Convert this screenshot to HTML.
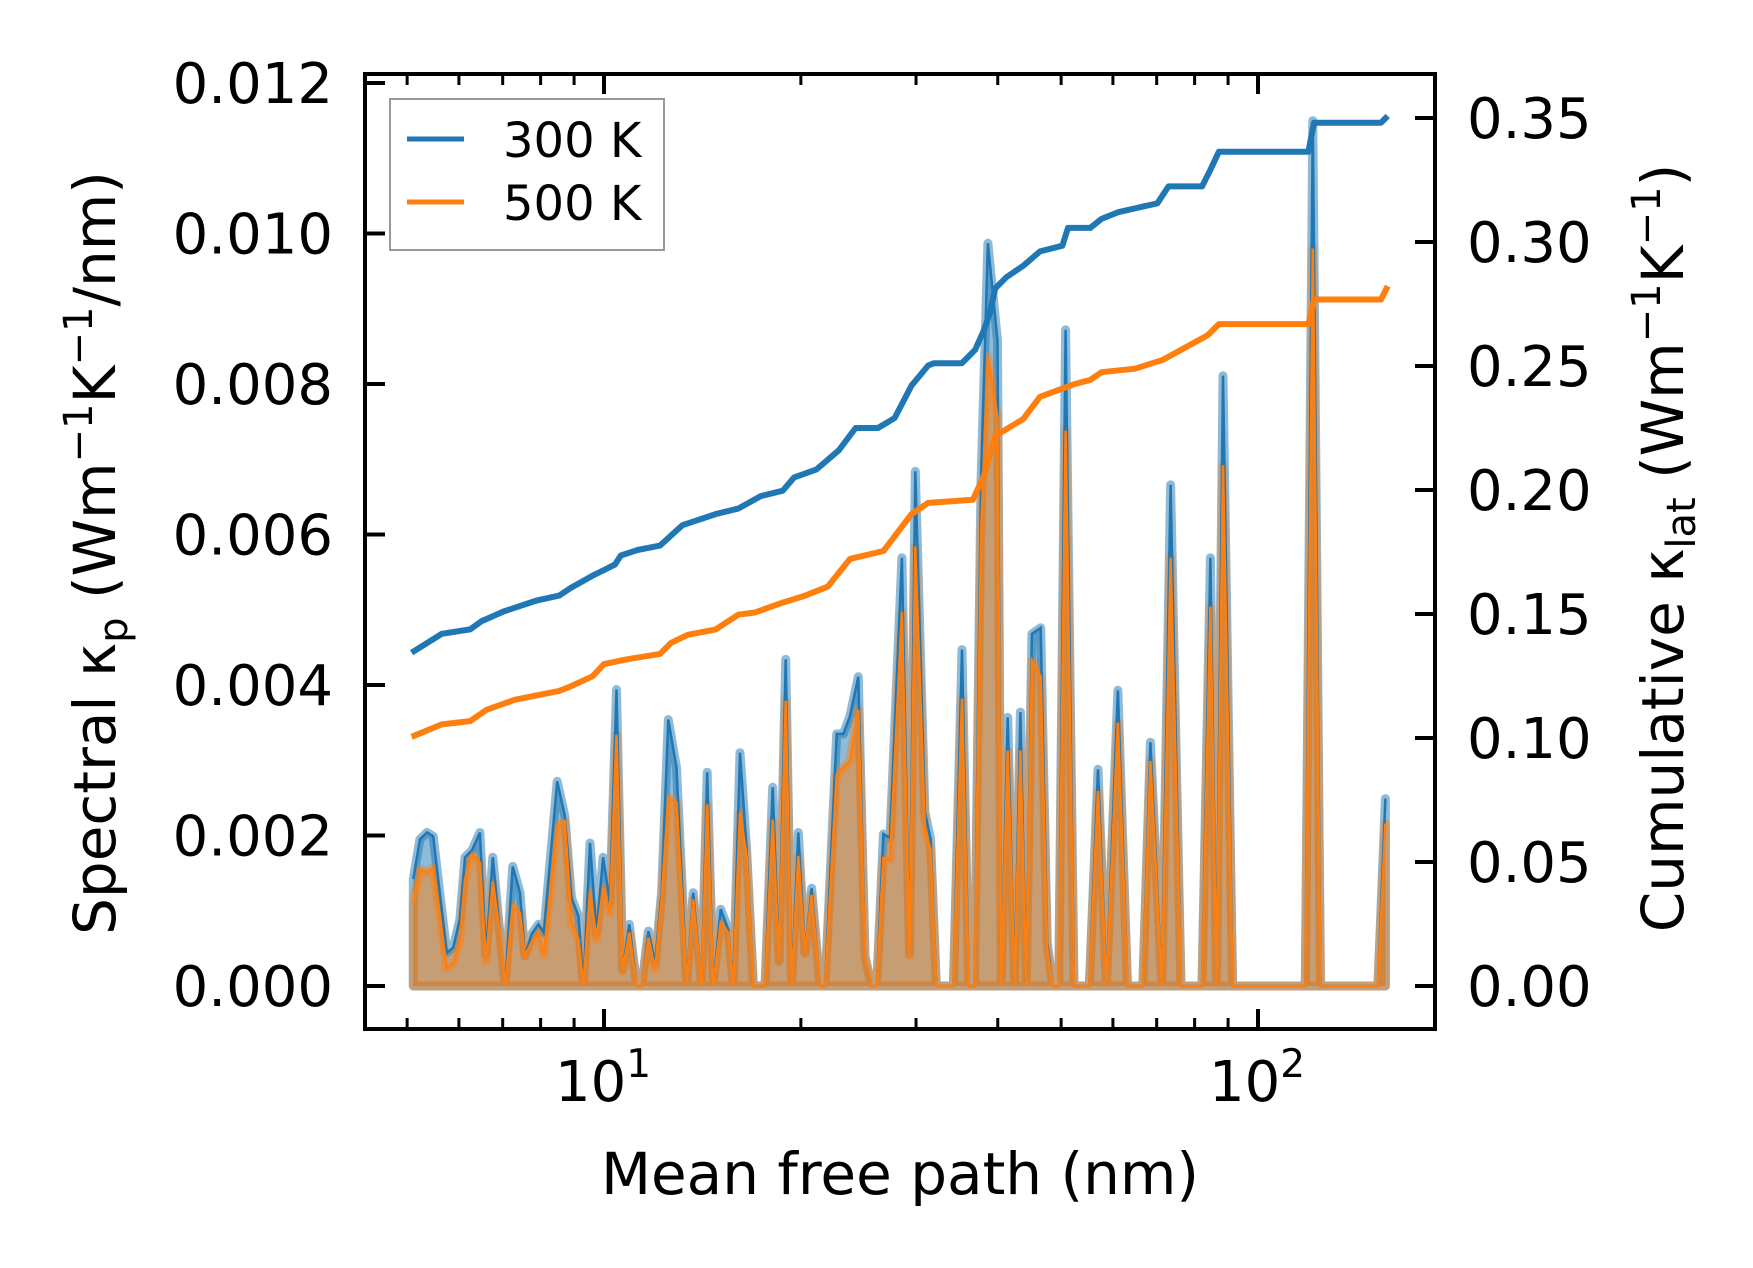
<!DOCTYPE html>
<html><head><meta charset="utf-8">
<style>
html,body{margin:0;padding:0;background:#fff;}
svg{display:block;font-family:"DejaVu Sans","Liberation Sans",sans-serif;}
</style></head>
<body>
<svg id="chart" width="1753" height="1268" viewBox="0 0 1753 1268" xmlns="http://www.w3.org/2000/svg">
<rect width="1753" height="1268" fill="#fff"/>
<g id="plot"></g>
<g id="axes"></g>
<g>
  <rect x="390" y="99" width="274" height="151" fill="#fff" fill-opacity="0.8" stroke="#999" stroke-width="2"/>
  <line x1="407" y1="139" x2="464" y2="139" stroke="#1f77b4" stroke-width="5"/>
  <text x="503" y="157" font-size="48">300 K</text>
  <line x1="407" y1="202" x2="464" y2="202" stroke="#ff7f0e" stroke-width="5"/>
  <text x="503" y="220" font-size="48">500 K</text>
</g>
<text x="900" y="1194" font-size="58" text-anchor="middle">Mean free path (nm)</text>
<text transform="translate(115,553) rotate(-90)" font-size="58" text-anchor="middle">Spectral κ<tspan font-size="40" dy="12">p</tspan><tspan dy="-12"> (Wm</tspan><tspan font-size="40" dy="-23">−1</tspan><tspan dy="23">K</tspan><tspan font-size="40" dy="-23">−1</tspan><tspan dy="23">/nm)</tspan></text>
<text transform="translate(1683,548) rotate(-90)" font-size="58" text-anchor="middle">Cumulative κ<tspan font-size="40" dy="12">lat</tspan><tspan dy="-12"> (Wm</tspan><tspan font-size="40" dy="-23">−1</tspan><tspan dy="23">K</tspan><tspan font-size="40" dy="-23">−1</tspan><tspan dy="23">)</tspan></text>
</svg>
<script>
// Spectral data (MFP in nm, spectral kappa in 1e-3 W/m/K/nm)
const specX = [5.11,5.23,5.36,5.48,5.75,5.88,6.02,6.13,6.28,6.46,6.60,6.76,6.93,7.06,7.25,7.44,7.57,7.75,7.94,8.09,8.48,8.71,8.92,9.14,9.30,9.52,9.74,9.97,10.21,10.45,10.68,10.93,11.22,11.42,11.69,11.97,12.25,12.54,12.91,13.38,13.69,14.10,14.38,14.69,15.08,15.49,15.76,16.14,16.52,16.92,17.63,18.11,18.52,18.96,19.36,19.82,20.29,20.77,21.39,21.77,22.69,23.23,23.78,24.48,25.07,25.66,26.12,26.74,27.37,28.54,29.32,29.92,30.95,31.58,32.22,34.22,35.27,36.13,36.86,37.71,38.64,39.96,40.50,41.43,42.45,43.32,44.21,45.11,46.53,47.61,48.58,49.57,50.79,52.32,55.21,56.93,58.65,61.07,63.16,66.65,68.47,71.28,73.52,76.25,82.10,84.57,86.41,88.42,91.45,118.1,121.3,124.6,152.5,156.6];
const spec300 = [1.42,1.95,2.04,1.99,0.44,0.51,0.89,1.71,1.80,2.04,0.42,1.71,0.71,0,1.59,1.24,0.40,0.69,0.82,0.71,2.72,2.26,1.17,0.93,0,1.90,0.71,1.71,1.11,3.94,0.22,0.82,0,0,0.73,0.31,1.24,3.54,2.90,0.04,1.24,0,2.84,0,1.02,0.75,0,3.10,1.82,0,0,2.64,0.33,4.34,0,2.04,0.44,1.30,0,0,3.35,3.35,3.59,4.11,0.39,0,0,2.02,1.97,5.69,0.43,6.84,2.31,1.95,0,0,4.47,0,0,6.70,9.87,8.57,0,3.57,0,3.64,0,4.68,4.76,0.58,0,0,8.72,0,0,2.88,0,3.93,0,0,3.24,0,6.66,0,0,5.69,0,8.11,0,0,11.5,0,0,2.49];
const spec500 = [1.11,1.55,1.51,1.57,0.24,0.31,0.62,1.42,1.75,1.64,0.33,1.39,0.71,0,1.06,0.97,0.40,0.58,0.71,0.42,2.13,2.19,0.84,0.62,0,1.26,0.62,1.31,0.97,3.34,0.20,0.71,0,0,0.64,0.22,1.15,2.50,2.44,0.04,1.15,0,2.41,0,0.84,0.71,0,2.30,1.73,0,0,2.21,0.33,3.79,0,1.73,0.44,1.21,0,0,2.81,2.90,2.99,3.67,0.39,0,0,1.70,1.67,4.97,0.40,5.84,2.09,1.80,0,0,3.82,0,0,6.00,8.36,7.56,0,3.13,0,3.13,0,4.32,4.11,0.50,0,0,7.38,0,0,2.59,0,3.50,0,0,2.99,0,5.69,0,0,5.04,0,6.92,0,0,9.80,0,0,2.16];
// Cumulative data (MFP in nm, W/m/K)
const cum300X = [5.08,5.65,6.24,6.49,7.02,7.90,8.54,8.89,9.61,10,10.40,10.61,11.25,12.18,13.18,14.82,16.04,17.35,18.77,19.53,21.13,22.86,24.25,26.23,27.82,29.52,31.31,31.93,35.24,36.94,38.13,38.89,39.66,41.24,43.75,46.42,50.22,51.22,55.41,57.64,61.14,70.18,72.98,82.13,84.42,87.13,119.4,121.8,154.2,157.9];
const cum300 = [0.1344,0.1420,0.1438,0.1470,0.1510,0.1555,0.1574,0.1605,0.1655,0.1677,0.1700,0.1736,0.1758,0.1776,0.1858,0.1903,0.1925,0.1975,0.1997,0.2051,0.2083,0.2160,0.2250,0.2250,0.2290,0.2421,0.2502,0.2511,0.2511,0.2565,0.2646,0.2714,0.2813,0.2858,0.2904,0.2962,0.2985,0.3057,0.3057,0.3093,0.3120,0.3156,0.3224,0.3224,0.3287,0.3364,0.3364,0.3481,0.3481,0.3508];
const cum500X = [5.08,5.65,6.24,6.62,7.30,7.90,8.54,8.89,9.61,10,10.82,12.18,12.67,13.43,14.82,16.04,17.01,18.77,20.31,21.98,23.78,26.75,29.52,31.31,36.65,38.13,39.66,42.06,43.75,46.42,52.24,55.41,57.64,64.86,71.56,83.76,87.13,119.4,121.8,154.2,157.9];
const cum500 = [0.1005,0.1055,0.1068,0.1114,0.1154,0.1172,0.1190,0.1208,0.1249,0.1298,0.1317,0.1339,0.1384,0.1416,0.1438,0.1497,0.1506,0.1546,0.1574,0.1610,0.1722,0.1754,0.1903,0.1948,0.1961,0.2060,0.2218,0.2259,0.2286,0.2376,0.2426,0.2444,0.2475,0.2489,0.2525,0.2624,0.2669,0.2669,0.2768,0.2768,0.2822];
const leftTicks = [0,0.002,0.004,0.006,0.008,0.010,0.012];
const leftTickLabels = ["0.000","0.002","0.004","0.006","0.008","0.010","0.012"];
const rightTicks = [0,0.05,0.10,0.15,0.20,0.25,0.30,0.35];
const rightTickLabels = ["0.00","0.05","0.10","0.15","0.20","0.25","0.30","0.35"];
const xMajor = [10,100];
const xMinor = [5,6,7,8,9,20,30,40,50,60,70,80,90];

const NS = "http://www.w3.org/2000/svg";
const L = 365, R = 1435, T = 74, B = 1029;
function xs(v){ return 604 + (Math.log10(v) - 1) * 654; }
function yl(v){ return 986 - v * 1000 * 75.25; }
function ys(v){ return 986 - v * 75.25; }
function yr(v){ return 986 - v / 0.05 * 124; }
function mk(tag, attrs, parent){
  const e = document.createElementNS(NS, tag);
  for (const k in attrs) e.setAttribute(k, attrs[k]);
  parent.appendChild(e); return e;
}
const plot = document.getElementById('plot');
const axes = document.getElementById('axes');

function areaPath(xsArr, vals){
  let d = "M" + xs(xsArr[0]).toFixed(1) + "," + ys(0);
  for (let i = 0; i < xsArr.length; i++) d += " L" + xs(xsArr[i]).toFixed(1) + "," + ys(vals[i]).toFixed(1);
  d += " L" + xs(xsArr[xsArr.length-1]).toFixed(1) + "," + ys(0) + " Z";
  return d;
}
function linePath(xsArr, vals, yf){
  let d = "";
  for (let i = 0; i < xsArr.length; i++) d += (i ? " L" : "M") + xs(xsArr[i]).toFixed(1) + "," + yf(vals[i]).toFixed(1);
  return d;
}
let e;
e = mk('path', {d: areaPath(specX, spec300), fill: 'rgba(31,119,180,0.5)', stroke: 'rgba(31,119,180,0.5)', 'stroke-width': 9, 'stroke-linejoin': 'round'}, plot);


e = mk('path', {d: areaPath(specX, spec500), fill: 'rgba(255,127,14,0.5)', stroke: 'rgba(255,127,14,0.45)', 'stroke-width': 9, 'stroke-linejoin': 'round'}, plot);


e = mk('path', {d: linePath(specX, spec300, ys), fill: 'none', stroke: '#1f77b4', 'stroke-width': 2.5}, plot);


e = mk('path', {d: linePath(specX, spec500, ys), fill: 'none', stroke: '#ff7f0e', 'stroke-width': 2.5}, plot);


e = mk('path', {d: linePath(cum300X, cum300, yr), fill: 'none', stroke: '#1f77b4', 'stroke-width': 6, 'stroke-linejoin': 'round'}, plot);


e = mk('path', {d: linePath(cum500X, cum500, yr), fill: 'none', stroke: '#ff7f0e', 'stroke-width': 6, 'stroke-linejoin': 'round'}, plot);



e = mk('rect', {x: L, y: T, width: R-L, height: B-T, fill: 'none', stroke: '#000', 'stroke-width': 4}, axes);


leftTicks.forEach((v, i) => {
  const y = yl(v);
  const t = mk('line', {x1: L, x2: L+20, y1: y, y2: y, stroke: '#000', 'stroke-width': 4}, axes);
  
  
  const lb = mk('text', {x: 333, y: y + 20, 'font-size': 56, 'text-anchor': 'end'}, axes);
  lb.textContent = leftTickLabels[i];
  
  
});
rightTicks.forEach((v, i) => {
  const y = yr(v);
  const t = mk('line', {x1: R-20, x2: R, y1: y, y2: y, stroke: '#000', 'stroke-width': 4}, axes);
  
  
  const lb = mk('text', {x: 1467, y: y + 20, 'font-size': 56}, axes);
  lb.textContent = rightTickLabels[i];
  
  
});
xMajor.forEach(v => {
  const x = xs(v);
  [[B, B-20], [T, T+20]].forEach(p => {
    const t = mk('line', {x1: x, x2: x, y1: p[0], y2: p[1], stroke: '#000', 'stroke-width': 4}, axes);
    
    
  });
  const lb = mk('text', {x: x - 1, y: 1101, 'font-size': 56, 'text-anchor': 'middle'}, axes);
  
  
  lb.textContent = "10";
  const sup = mk('tspan', {'font-size': 39, dy: -24}, lb);
  sup.textContent = String(Math.round(Math.log10(v)));
});
xMinor.forEach(v => {
  const x = xs(v);
  [[B, B-11], [T, T+11]].forEach(p => {
    const t = mk('line', {x1: x, x2: x, y1: p[0], y2: p[1], stroke: '#000', 'stroke-width': 3}, axes);
    
    
  });
});
</script>
</body></html>
